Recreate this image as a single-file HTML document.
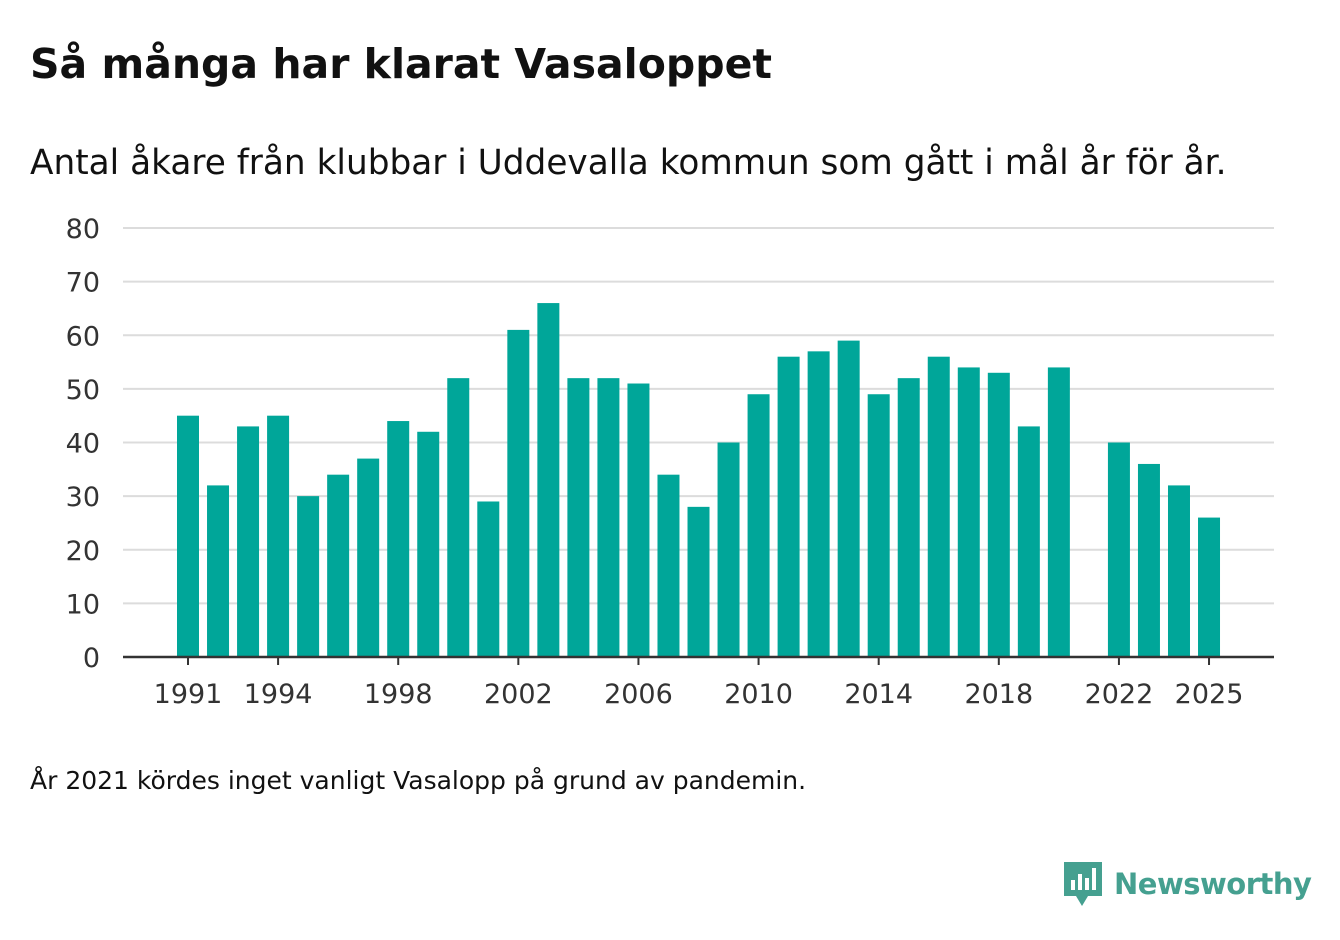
<!DOCTYPE html>
<html><head><meta charset="utf-8">
<style>
body{margin:0;width:1340px;height:940px;background:#fff;font-family:"DejaVu Sans","Liberation Sans",sans-serif;color:#111;overflow:hidden;position:relative}
#title{position:absolute;left:30px;top:40px;font-size:41px;font-weight:bold;margin:0;letter-spacing:0px}
#subtitle{position:absolute;left:30px;top:143px;font-size:34.3px;margin:0}
#note{position:absolute;left:30px;top:766px;font-size:25px}
#logo{position:absolute;left:1062px;top:860px;display:flex;align-items:center}
#logo span{font-size:29px;font-weight:bold;color:#45a090;margin-left:10px;letter-spacing:-0.5px}
</style></head><body>
<h1 id="title">Så många har klarat Vasaloppet</h1>
<p id="subtitle">Antal åkare från klubbar i Uddevalla kommun som gått i mål år för år.</p>
<svg id="chart" width="1340" height="940" style="position:absolute;left:0;top:0"></svg>
<div id="note">År 2021 kördes inget vanligt Vasalopp på grund av pandemin.</div>
<div id="logo">
<svg width="42" height="48" viewBox="0 0 42 48"><path d="M2 2h38v34H26l-6 10-6-10H2z" fill="#45a090"/><rect x="9" y="20" width="4" height="10" fill="#fff"/><rect x="16" y="14" width="4" height="16" fill="#fff"/><rect x="23" y="18" width="4" height="12" fill="#fff"/><rect x="30" y="8" width="4" height="22" fill="#fff"/></svg>
<span>Newsworthy</span></div>
<script>
const years=[1991,1992,1993,1994,1995,1996,1997,1998,1999,2000,2001,2002,2003,2004,2005,2006,2007,2008,2009,2010,2011,2012,2013,2014,2015,2016,2017,2018,2019,2020,2021,2022,2023,2024,2025];
const values=[45,32,43,45,30,34,37,44,42,52,29,61,66,52,52,51,34,28,40,49,56,57,59,49,52,56,54,53,43,54,null,40,36,32,26];
const yTicks=[0,10,20,30,40,50,60,70,80];
const xTickLabels=[1991,1994,1998,2002,2006,2010,2014,2018,2022,2025];
const NS="http://www.w3.org/2000/svg";
const svg=document.getElementById('chart');
const x0=123,x1=1274,y0=657,y1=228;
const ymax=80;
const yS=v=>y0-(v/ymax)*(y0-y1);
const step=30.03;
const xS=yr=>188+(yr-1991)*step;
function mk(t,a){const e=document.createElementNS(NS,t);for(const k in a)e.setAttribute(k,a[k]);svg.appendChild(e);return e;}
yTicks.forEach(t=>{
  if(t>0){const g=mk('line',{x1:x0,x2:x1,y1:yS(t),y2:yS(t),stroke:'#dcdcdc','stroke-width':2});
  
  }
  const l=mk('text',{x:100,y:yS(t)+10,'text-anchor':'end','font-size':27,fill:'#333','font-family':'DejaVu Sans, Liberation Sans, sans-serif'});
  l.textContent=t;
  
  
});
years.forEach((yr,i)=>{
  const v=values[i];if(v==null)return;
  const r=mk('rect',{x:xS(yr)-11,y:yS(v),width:22,height:y0-yS(v),fill:'#00a699'});
  
  
});
const ax=mk('line',{x1:x0,x2:x1,y1:y0,y2:y0,stroke:'#333','stroke-width':2.5});


xTickLabels.forEach(yr=>{
  const tk=mk('line',{x1:xS(yr),x2:xS(yr),y1:y0,y2:y0+8,stroke:'#333','stroke-width':2});
  
  
  const l=mk('text',{x:xS(yr),y:703,'text-anchor':'middle','font-size':27,fill:'#333','font-family':'DejaVu Sans, Liberation Sans, sans-serif'});
  l.textContent=yr;
  
  
});
</script>
</body></html>
